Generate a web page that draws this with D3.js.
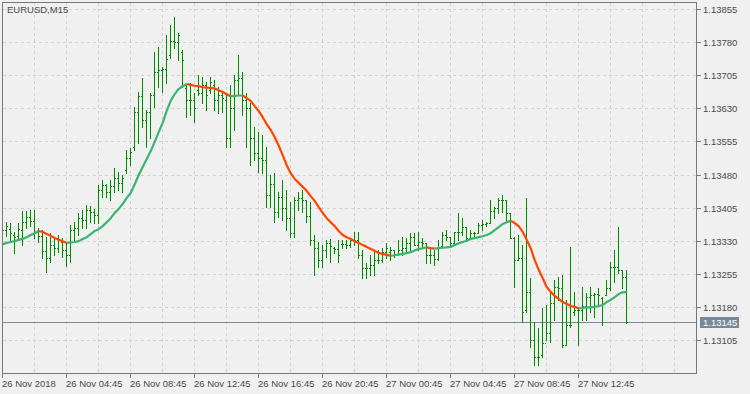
<!DOCTYPE html>
<html>
<head>
<meta charset="utf-8">
<script src="https://cdn.jsdelivr.net/npm/d3@7"></script>
<style>
  html, body { margin: 0; padding: 0; background: #f0f0f0; }
  svg { display: block; font-family: "Liberation Sans", Arial, sans-serif; }
</style>
</head>
<body>
<svg id="chart" width="750" height="394"></svg>
<script>
'use strict';

// EURUSD M15 bars, index 0 = 26 Nov 00:45
var barOpen = [1.13343,1.13354,1.13356,1.13343,1.13341,1.13354,1.13372,1.13384,1.13375,1.13350,
  1.13341,1.13307,1.13291,1.13320,1.13313,1.13327,1.13309,1.13298,1.13354,1.13359,
  1.13381,1.13377,1.13400,1.13395,1.13388,1.13445,1.13456,1.13440,1.13454,1.13472,
  1.13461,1.13490,1.13517,1.13542,1.13622,1.13658,1.13603,1.13622,1.13660,1.13712,
  1.13717,1.13719,1.13751,1.13782,1.13780,1.13758,1.13676,1.13649,1.13649,1.13671,
  1.13665,1.13683,1.13671,1.13683,1.13649,1.13660,1.13649,1.13563,1.13631,1.13694,
  1.13699,1.13649,1.13631,1.13563,1.13529,1.13517,1.13513,1.13434,1.13458,1.13395,
  1.13429,1.13404,1.13381,1.13347,1.13422,1.13427,1.13422,1.13386,1.13332,1.13313,
  1.13286,1.13309,1.13325,1.13313,1.13311,1.13322,1.13322,1.13320,1.13332,1.13332,
  1.13298,1.13268,1.13268,1.13275,1.13286,1.13286,1.13304,1.13304,1.13309,1.13300,
  1.13309,1.13313,1.13325,1.13338,1.13320,1.13327,1.13325,1.13298,1.13298,1.13289,
  1.13318,1.13343,1.13338,1.13325,1.13350,1.13350,1.13361,1.13336,1.13347,1.13347,
  1.13366,1.13368,1.13370,1.13397,1.13404,1.13422,1.13422,1.13393,1.13336,1.13286,
  1.13291,1.13173,1.13214,1.13105,1.13066,1.13071,1.13098,1.13121,1.13189,1.13225,
  1.13223,1.13094,1.13139,1.13168,1.13173,1.13173,1.13182,1.13202,1.13207,1.13209,
  1.13200,1.13207,1.13223,1.13270,1.13270,1.13264,1.13248];

var barHigh = [1.13363,1.13372,1.13370,1.13350,1.13370,1.13397,1.13397,1.13400,1.13400,1.13359,
  1.13354,1.13338,1.13347,1.13338,1.13343,1.13336,1.13325,1.13366,1.13372,1.13393,
  1.13400,1.13411,1.13409,1.13402,1.13456,1.13468,1.13458,1.13468,1.13495,1.13486,
  1.13479,1.13535,1.13540,1.13633,1.13667,1.13699,1.13626,1.13665,1.13758,1.13769,
  1.13724,1.13796,1.13819,1.13837,1.13801,1.13762,1.13683,1.13687,1.13665,1.13705,
  1.13701,1.13690,1.13701,1.13694,1.13678,1.13665,1.13660,1.13683,1.13705,1.13751,
  1.13712,1.13665,1.13642,1.13588,1.13576,1.13569,1.13542,1.13479,1.13483,1.13440,
  1.13468,1.13445,1.13418,1.13429,1.13440,1.13445,1.13422,1.13418,1.13343,1.13327,
  1.13320,1.13332,1.13334,1.13316,1.13332,1.13332,1.13332,1.13336,1.13350,1.13350,
  1.13309,1.13279,1.13298,1.13309,1.13309,1.13313,1.13325,1.13316,1.13309,1.13332,
  1.13338,1.13336,1.13347,1.13347,1.13350,1.13336,1.13325,1.13313,1.13309,1.13332,
  1.13350,1.13354,1.13338,1.13350,1.13393,1.13381,1.13361,1.13354,1.13350,1.13370,
  1.13377,1.13372,1.13422,1.13406,1.13427,1.13434,1.13422,1.13393,1.13338,1.13343,
  1.13320,1.13427,1.13245,1.13146,1.13132,1.13177,1.13184,1.13214,1.13241,1.13248,
  1.13252,1.13196,1.13316,1.13214,1.13177,1.13225,1.13211,1.13225,1.13211,1.13223,
  1.13202,1.13241,1.13282,1.13309,1.13361,1.13264,1.13264];

var barLow = [1.13332,1.13341,1.13332,1.13302,1.13332,1.13320,1.13359,1.13363,1.13336,1.13327,
  1.13291,1.13259,1.13282,1.13298,1.13304,1.13293,1.13273,1.13282,1.13332,1.13343,
  1.13359,1.13359,1.13372,1.13370,1.13370,1.13429,1.13429,1.13422,1.13440,1.13445,
  1.13440,1.13483,1.13501,1.13535,1.13551,1.13588,1.13542,1.13563,1.13633,1.13678,
  1.13667,1.13687,1.13744,1.13767,1.13739,1.13678,1.13610,1.13615,1.13599,1.13660,
  1.13642,1.13626,1.13665,1.13626,1.13619,1.13622,1.13542,1.13542,1.13581,1.13660,
  1.13615,1.13542,1.13501,1.13513,1.13486,1.13483,1.13406,1.13406,1.13372,1.13384,
  1.13377,1.13354,1.13338,1.13338,1.13400,1.13395,1.13372,1.13320,1.13252,1.13270,
  1.13270,1.13293,1.13282,1.13302,1.13282,1.13313,1.13313,1.13316,1.13320,1.13291,
  1.13245,1.13245,1.13252,1.13252,1.13279,1.13282,1.13291,1.13286,1.13293,1.13298,
  1.13298,1.13304,1.13304,1.13320,1.13309,1.13316,1.13279,1.13279,1.13275,1.13286,
  1.13316,1.13332,1.13320,1.13325,1.13332,1.13343,1.13332,1.13336,1.13338,1.13347,
  1.13354,1.13363,1.13370,1.13381,1.13393,1.13395,1.13372,1.13336,1.13225,1.13286,
  1.13146,1.13168,1.13089,1.13048,1.13048,1.13066,1.13105,1.13100,1.13150,1.13196,
  1.13089,1.13094,1.13134,1.13162,1.13094,1.13150,1.13150,1.13168,1.13157,1.13184,
  1.13139,1.13207,1.13218,1.13236,1.13257,1.13223,1.13143];

var barClose = [1.13354,1.13363,1.13347,1.13338,1.13356,1.13372,1.13384,1.13375,1.13350,1.13341,
  1.13307,1.13291,1.13320,1.13313,1.13332,1.13309,1.13298,1.13354,1.13359,1.13381,
  1.13377,1.13400,1.13395,1.13388,1.13445,1.13456,1.13440,1.13454,1.13472,1.13461,
  1.13472,1.13517,1.13531,1.13622,1.13658,1.13603,1.13622,1.13660,1.13712,1.13717,
  1.13719,1.13742,1.13782,1.13780,1.13796,1.13739,1.13649,1.13649,1.13631,1.13665,
  1.13683,1.13660,1.13690,1.13649,1.13660,1.13653,1.13563,1.13631,1.13694,1.13699,
  1.13649,1.13631,1.13563,1.13529,1.13517,1.13513,1.13434,1.13458,1.13395,1.13429,
  1.13404,1.13381,1.13347,1.13422,1.13427,1.13422,1.13386,1.13332,1.13313,1.13286,
  1.13309,1.13325,1.13318,1.13311,1.13298,1.13322,1.13320,1.13332,1.13332,1.13298,
  1.13268,1.13268,1.13275,1.13286,1.13286,1.13304,1.13313,1.13309,1.13300,1.13309,
  1.13313,1.13325,1.13338,1.13320,1.13327,1.13325,1.13298,1.13298,1.13289,1.13316,
  1.13343,1.13338,1.13325,1.13350,1.13350,1.13361,1.13336,1.13347,1.13347,1.13366,
  1.13368,1.13370,1.13397,1.13404,1.13422,1.13422,1.13393,1.13336,1.13286,1.13291,
  1.13168,1.13214,1.13105,1.13066,1.13066,1.13098,1.13121,1.13189,1.13225,1.13223,
  1.13094,1.13139,1.13139,1.13173,1.13173,1.13182,1.13202,1.13207,1.13209,1.13207,
  1.13187,1.13223,1.13270,1.13270,1.13264,1.13248,1.13145];

// moving average, one value per bar
var maLine = [1.13322,1.13325,1.13327,1.13329,1.13332,1.13334,1.13338,1.13343,1.13347,1.13352,
  1.13350,1.13345,1.13341,1.13336,1.13332,1.13329,1.13325,1.13326,1.13327,1.13329,
  1.13334,1.13338,1.13345,1.13352,1.13356,1.13363,1.13372,1.13381,1.13393,1.13402,
  1.13413,1.13427,1.13438,1.13458,1.13479,1.13497,1.13515,1.13533,1.13554,1.13576,
  1.13597,1.13624,1.13647,1.13662,1.13674,1.13680,1.13685,1.13683,1.13681,1.13680,
  1.13678,1.13677,1.13676,1.13675,1.13671,1.13667,1.13662,1.13657,1.13658,1.13659,
  1.13659,1.13653,1.13647,1.13635,1.13624,1.13610,1.13594,1.13581,1.13565,1.13545,
  1.13524,1.13501,1.13483,1.13470,1.13461,1.13452,1.13443,1.13431,1.13420,1.13406,
  1.13393,1.13381,1.13372,1.13363,1.13352,1.13343,1.13338,1.13334,1.13329,1.13325,
  1.13320,1.13316,1.13311,1.13307,1.13302,1.13300,1.13298,1.13296,1.13297,1.13299,
  1.13300,1.13302,1.13304,1.13308,1.13311,1.13313,1.13315,1.13313,1.13312,1.13313,
  1.13314,1.13315,1.13316,1.13320,1.13324,1.13327,1.13330,1.13334,1.13336,1.13338,
  1.13340,1.13343,1.13347,1.13354,1.13361,1.13368,1.13372,1.13375,1.13370,1.13363,
  1.13350,1.13332,1.13313,1.13286,1.13264,1.13245,1.13225,1.13214,1.13205,1.13198,
  1.13191,1.13187,1.13182,1.13180,1.13177,1.13178,1.13179,1.13179,1.13180,1.13182,
  1.13184,1.13191,1.13196,1.13202,1.13209,1.13213,1.13214];

var timeLabels = ['26 Nov 2018', '26 Nov 04:45', '26 Nov 08:45', '26 Nov 12:45', '26 Nov 16:45',
  '26 Nov 20:45', '27 Nov 00:45', '27 Nov 04:45', '27 Nov 08:45', '27 Nov 12:45'];
var timeLabelBars = [0, 16, 32, 48, 64, 80, 96, 112, 128, 144];
var priceTicks = [1.13855, 1.13780, 1.13705, 1.13630, 1.13555, 1.13480, 1.13405,
  1.13330, 1.13255, 1.13180, 1.13105];
var lastPrice = 1.13145;
var chartTitle = 'EURUSD,M15';

var svg = d3.select('#chart');
var plotLeft = 2, plotTop = 2, plotRight = 696, plotBottom = 373;
var textColor = '#4a4a4a';

var x = d3.scaleLinear().domain([0, 1]).range([2.7, 6.7]);
var y = d3.scaleLinear().domain([1.13105, 1.13855]).range([340, 9]);

function px(i) { return Math.floor(x(i)); }
function py(v) { return Math.round(y(v)); }

svg.append('defs').append('clipPath').attr('id', 'plotClip')
  .append('rect').attr('x', plotLeft + 1).attr('y', plotTop + 1)
  .attr('width', plotRight - plotLeft - 1).attr('height', plotBottom - plotTop - 1);

// grid
var grid = svg.append('g').attr('stroke', '#d2d2d2').attr('stroke-dasharray', '3,3');
priceTicks.forEach(function (v) {
  grid.append('line').attr('x1', plotLeft + 1).attr('x2', plotRight)
    .attr('y1', py(v) + 0.5).attr('y2', py(v) + 0.5);
});
for (var g = 8; x(g) < plotRight; g += 8) {
  grid.append('line').attr('x1', px(g) + 0.5).attr('x2', px(g) + 0.5)
    .attr('y1', plotTop + 1).attr('y2', plotBottom);
}

var plot = svg.append('g').attr('clip-path', 'url(#plotClip)');

// price line
plot.append('line').attr('x1', plotLeft).attr('x2', plotRight)
  .attr('y1', py(lastPrice) + 0.5).attr('y2', py(lastPrice) + 0.5)
  .attr('stroke', '#778899').attr('stroke-width', 1);

// bars
var bars = plot.append('g').attr('fill', '#008a00');
barOpen.forEach(function (o, i) {
  var bx = px(i);
  bars.append('rect').attr('x', bx).attr('y', py(barHigh[i]))
    .attr('width', 1).attr('height', py(barLow[i]) - py(barHigh[i]) + 1);
  bars.append('rect').attr('x', bx - 1).attr('y', py(o)).attr('width', 1).attr('height', 1);
  bars.append('rect').attr('x', bx + 1).attr('y', py(barClose[i])).attr('width', 1).attr('height', 1);
});

// moving average, coloured by direction
var line = d3.line().x(function (d) { return x(d) ; }).y(function (d) { return y(maLine[d]); });
var runs = [];
for (var i = 1; i < maLine.length; i++) {
  var col = maLine[i] >= maLine[i - 1] ? '#3cb371' : '#ff4500';
  if (runs.length && runs[runs.length - 1].col === col) {
    runs[runs.length - 1].pts.push(i);
  } else {
    runs.push({ col: col, pts: [i - 1, i] });
  }
}
plot.selectAll('path.ma').data(runs).enter().append('path')
  .attr('class', 'ma')
  .attr('d', function (r) { return line(r.pts); })
  .attr('fill', 'none')
  .attr('stroke', function (r) { return r.col; })
  .attr('stroke-width', 2.2)
  .attr('stroke-linejoin', 'round');

// frame
svg.append('rect').attr('x', plotLeft + 0.5).attr('y', plotTop + 0.5)
  .attr('width', plotRight - plotLeft).attr('height', plotBottom - plotTop)
  .attr('fill', 'none').attr('stroke', '#777777');

// price axis
var yAxis = svg.append('g');
priceTicks.forEach(function (v) {
  yAxis.append('line').attr('x1', plotRight + 1).attr('x2', plotRight + 5)
    .attr('y1', py(v) + 0.5).attr('y2', py(v) + 0.5).attr('stroke', '#777777');
  yAxis.append('text').attr('x', plotRight + 7).attr('y', py(v) + 4)
    .attr('font-size', '9.5px').attr('fill', textColor).text(v.toFixed(5));
});
yAxis.append('rect').attr('x', plotRight + 4).attr('y', py(lastPrice) - 5)
  .attr('width', 39).attr('height', 11).attr('fill', '#778899');
yAxis.append('text').attr('x', plotRight + 7).attr('y', py(lastPrice) + 4)
  .attr('font-size', '9.5px').attr('fill', '#ffffff').text(lastPrice.toFixed(5));

// time axis
var xAxis = svg.append('g');
timeLabels.forEach(function (t, k) {
  var tx = px(timeLabelBars[k]) + 0.5;
  xAxis.append('line').attr('x1', tx).attr('x2', tx)
    .attr('y1', plotBottom + 1).attr('y2', plotBottom + 5).attr('stroke', '#777777');
  xAxis.append('text').attr('x', tx - 0.5).attr('y', plotBottom + 14)
    .attr('font-size', '9.5px').attr('fill', textColor).text(t);
});

// title
svg.append('text').attr('x', 7).attr('y', 13).attr('font-size', '9.5px')
  .attr('fill', textColor).text(chartTitle);
</script>
</body>
</html>
